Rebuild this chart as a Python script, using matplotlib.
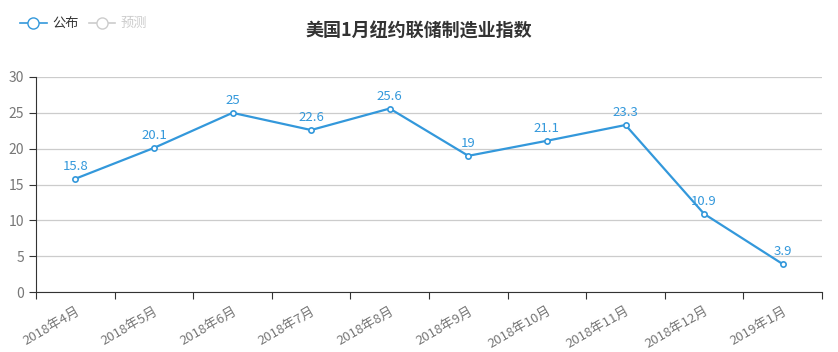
import matplotlib
matplotlib.use('Agg')
import matplotlib.pyplot as plt
from matplotlib.lines import Line2D
import numpy as np

plt.rcParams['font.family'] = ['Noto Sans CJK SC', 'DejaVu Sans']

months = ['2018年4月', '2018年5月', '2018年6月', '2018年7月', '2018年8月',
          '2018年9月', '2018年10月', '2018年11月', '2018年12月', '2019年1月']
values = [15.8, 20.1, 25, 22.6, 25.6, 19, 21.1, 23.3, 10.9, 3.9]
value_labels = ['15.8', '20.1', '25', '22.6', '25.6', '19', '21.1', '23.3', '10.9', '3.9']

blue = '#3398DB'
axis_c = '#333333'
text_c = '#777777'

fig = plt.figure(figsize=(8.38, 3.52), dpi=100)
ax = fig.add_axes([36/838, 60/352, 786/838, 215/352])

x = np.arange(len(months))
ax.plot(x, values, color=blue, lw=1.6, marker='o', ms=3.8, mfc='white',
        mec=blue, mew=1.2, zorder=3)
for xi, v, lab in zip(x, values, value_labels):
    ax.annotate(lab, (xi, v), xytext=(0, 4), textcoords='offset points',
                ha='center', va='bottom', color=blue, fontsize=9.5)

ax.set_xlim(-0.5, len(months) - 0.5)
ax.set_ylim(0, 30)
ax.set_yticks(range(0, 31, 5))
ax.set_xticks(np.arange(-0.5, len(months), 1.0))
ax.set_xticklabels([])
ax.set_xticks(x, minor=True)
ax.set_xticklabels(months, minor=True, rotation=30, ha='right', va='top',
                   rotation_mode='anchor', color=text_c, fontsize=9.5)
ax.tick_params(axis='x', which='minor', length=0, pad=9)
ax.tick_params(axis='x', which='major', length=5, color=axis_c)
ax.tick_params(axis='y', length=5, color=axis_c, labelcolor=text_c, labelsize=10)

ax.grid(axis='y', color='#cccccc', lw=0.9)
ax.set_axisbelow(True)
for s in ['top', 'right']:
    ax.spines[s].set_visible(False)
ax.spines['left'].set_color(axis_c)
ax.spines['bottom'].set_color(axis_c)

fig.text(0.5, 0.912, '美国1月纽约联储制造业指数', ha='center', va='center',
         fontsize=13, fontweight='bold', color='#333333')

handles = [Line2D([], [], color=blue, marker='o', mfc='white', mec=blue, ms=8, lw=1.2),
           Line2D([], [], color='#cccccc', marker='o', mfc='white', mec='#cccccc', ms=8, lw=1.2)]
leg = fig.legend(handles, ['公布', '预测'], loc='upper left', bbox_to_anchor=(0.01, 0.985),
                 ncol=2, frameon=False, fontsize=9.5, handlelength=2.0,
                 columnspacing=0.8, handletextpad=0.4)
leg.get_texts()[0].set_color('#333333')
leg.get_texts()[1].set_color('#cccccc')

fig.savefig('out.png', dpi=100)
